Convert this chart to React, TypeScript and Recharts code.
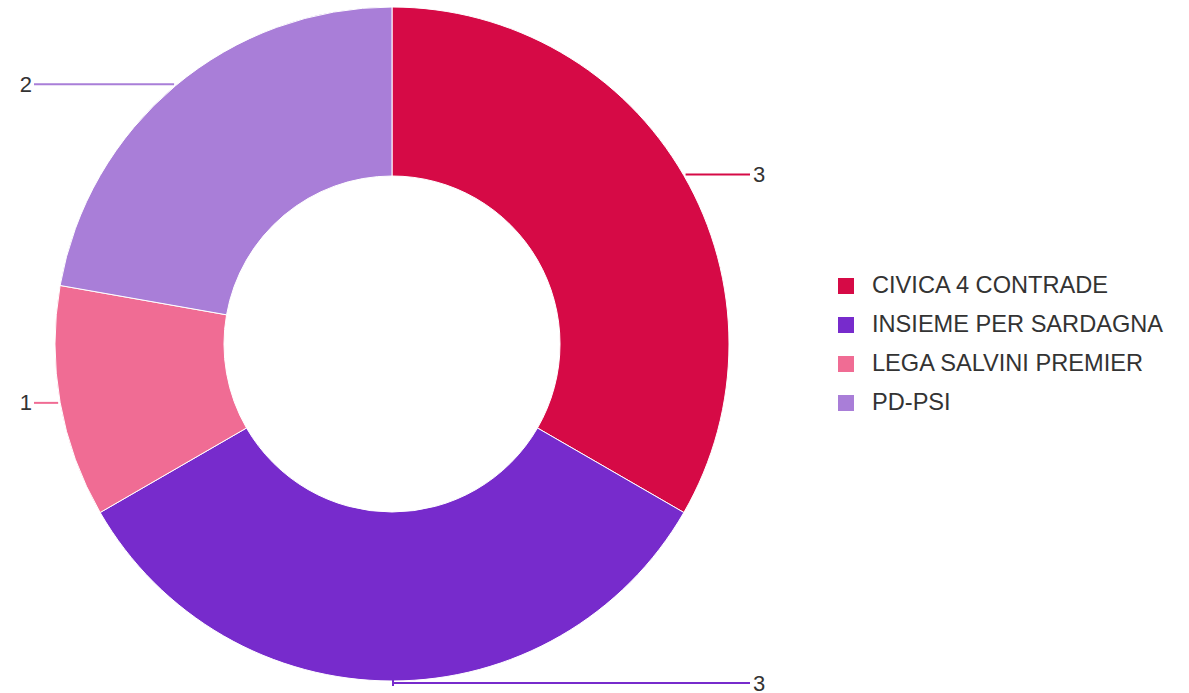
import { PieChart, Pie, Cell, Legend } from "recharts";

const names = ["CIVICA 4 CONTRADE", "INSIEME PER SARDAGNA", "LEGA SALVINI PREMIER", "PD-PSI"];
const seats = [3, 3, 1, 2];
const COLORS = ["#d60a46", "#772bcc", "#f06c94", "#a97ed8"];

const data = names.map((name, i) => ({ name, value: seats[i] }));

const RAD = Math.PI / 180;
const FONT = "Liberation Sans, Arial, sans-serif";

if (typeof document !== "undefined") {
  document.body.style.margin = "0";
}

const renderLabel = (props: any) => {
  const { cx, cy, midAngle, outerRadius, value, index } = props;
  const r = outerRadius + 2;
  const cos = Math.cos(-midAngle * RAD);
  const x = cx + r * cos;
  const y = cy + r * Math.sin(-midAngle * RAD);
  const right = x >= cx - 1;
  const endX = right ? 750 : 34;
  return (
    <g key={`lbl-${index}`}>
      {Math.abs(cos) < 0.05 && (
        <line x1={x + 1} y1={y - 3} x2={x + 1} y2={y + 3} stroke={COLORS[index]} strokeWidth={2} />
      )}
      <line x1={x} y1={y} x2={endX} y2={y} stroke={COLORS[index]} strokeWidth={2} />
      <text
        x={right ? endX + 3 : endX - 2}
        y={y}
        fill="#333"
        fontSize={22}
        fontFamily={FONT}
        textAnchor={right ? "start" : "end"}
        dominantBaseline="central"
      >
        {value}
      </text>
    </g>
  );
};

const renderLegend = () => (
  <div style={{ fontFamily: FONT }}>
    {data.map((d, i) => (
      <div key={d.name} style={{ display: "flex", alignItems: "center", height: 39 }}>
        <span style={{ width: 16, height: 16, background: COLORS[i], display: "inline-block", marginRight: 18 }} />
        <span style={{ fontSize: 23.6, color: "#333", whiteSpace: "nowrap" }}>{d.name}</span>
      </div>
    ))}
  </div>
);

function App() {
  return (
    <div style={{ width: 1189, height: 693, background: "#fff" }}>
      <PieChart
        width={1189}
        height={693}
        margin={{ top: 0, right: 0, bottom: 0, left: 0 }}
        style={{ overflow: "visible" }}
      >
        <Pie
          data={data}
          dataKey="value"
          nameKey="name"
          cx={392}
          cy={344}
          outerRadius={337}
          innerRadius={168}
          startAngle={90}
          endAngle={-270}
          stroke="#fff"
          strokeWidth={1}
          labelLine={false}
          label={renderLabel}
          isAnimationActive={false}
        >
          {data.map((entry, index) => (
            <Cell key={`cell-${index}`} fill={COLORS[index]} />
          ))}
        </Pie>
        <Legend
          content={renderLegend}
          layout="vertical"
          wrapperStyle={{ left: 838, top: 266, width: 350, bottom: "auto" }}
        />
      </PieChart>
    </div>
  );
}

export default App;
